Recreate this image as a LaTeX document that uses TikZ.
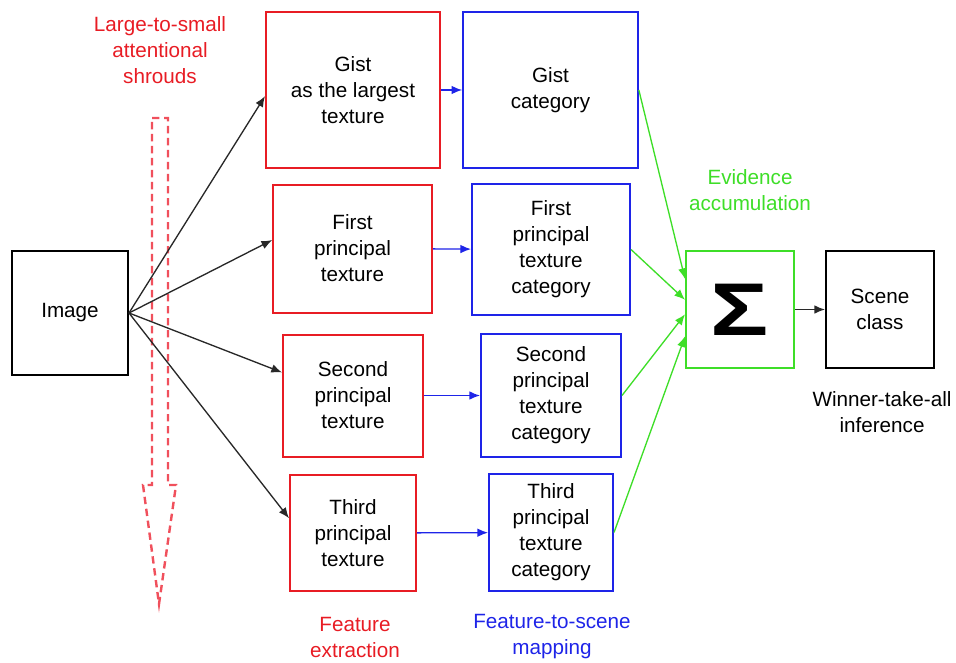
\documentclass[tikz,border=0pt]{standalone}
\usepackage{fontspec}
\setmainfont{Liberation Sans}
\usetikzlibrary{arrows.meta}
\definecolor{boxred}{RGB}{232,28,36}
\definecolor{boxblue}{RGB}{30,36,232}
\definecolor{evgreen}{RGB}{62,222,40}
\definecolor{shroud}{RGB}{240,80,92}
\definecolor{arrgray}{RGB}{40,40,40}

\begin{document}
\begin{tikzpicture}[x=0.75pt, y=-0.75pt,
	font=\fontsize{15.5}{19.5}\selectfont,
	box/.style={draw, line width=1.5pt, inner sep=0pt, align=center},
	feat/.style={box, draw=boxred},
	cat/.style={box, draw=boxblue},
	tip/.style={-{Latex[length=8pt,width=6.5pt]}},
	toFeat/.style={tip, draw=arrgray, line width=1pt},
	toCat/.style={tip, draw=boxblue, line width=1pt},
	toSum/.style={tip, draw=evgreen, line width=1pt}]
  \useasboundingbox (0,0) rectangle (956,663);

  \node[box, minimum width=87pt, minimum height=93pt] (img) at (70,313) {Image};

  \node[feat, minimum width=130.5pt, minimum height=117pt] (gist) at (353,90) {Gist\\as the largest\\texture};
  \node[feat, minimum width=119pt, minimum height=96pt] (first) at (352.5,248.5) {First\\principal\\texture};
  \node[feat, minimum width=105pt, minimum height=91.5pt] (second) at (353,395.5) {Second\\principal\\texture};
  \node[feat, minimum width=94.5pt, minimum height=87pt] (third) at (353,533) {Third\\principal\\texture};

  \node[cat, minimum width=131pt, minimum height=117pt] (gistcat) at (550.5,90) {Gist\\category};
  \node[cat, minimum width=118.5pt, minimum height=98pt] (firstcat) at (551,249.5) {First\\principal\\texture\\category};
  \node[cat, minimum width=105pt, minimum height=92pt] (secondcat) at (551,395.5) {Second\\principal\\texture\\category};
  \node[cat, minimum width=93pt, minimum height=88pt] (thirdcat) at (551,532.5) {Third\\principal\\texture\\category};

  \node[box, draw=evgreen, minimum width=81pt, minimum height=88pt, font=\fontsize{56}{56}\selectfont\bfseries] (sum) at (740,309.5) {\scalebox{1.3}[1]{Σ}};
  \node[box, minimum width=81pt, minimum height=88pt] (scene) at (880,309.5) {Scene\\class};

  \node[align=center, text=boxred] (shroudlbl) at (160,50) {Large-to-small\\attentional\\shrouds};
  \node[align=center, text=evgreen] (evidence) at (750,190) {Evidence\\accumulation};
  \node[align=center] (winner) at (882,412) {Winner-take-all\\inference};
  \node[align=center, text=boxred] (extract) at (355,637) {Feature\\extraction};
  \node[align=center, text=boxblue] (mapping) at (552,637) {Feature-to-scene\\mapping};

  \draw[shroud, line width=1.8pt, dash pattern=on 5.5pt off 3.5pt]
    (152,118) -- (168,118) -- (168,485) -- (176,485) -- (159,604) -- (143,485) -- (152,485) -- cycle;

  \draw[toFeat] (img.east) -- (gist.184);
  \draw[toFeat] (img.east) -- (first.174);
  \draw[toFeat] (img.east) -- (second.162);
  \draw[toFeat] (img.east) -- (third.167);

  \draw[toCat] (gist) -- (gistcat);
  \draw[toCat] (first) -- (firstcat);
  \draw[toCat] (second) -- (secondcat);
  \draw[toCat] (third) -- (thirdcat);

  \draw[toSum] (gistcat.east) -- (sum.151);
  \draw[toSum] (firstcat.east) -- (sum.170);
  \draw[toSum] (secondcat.east) -- (sum.185);
  \draw[toSum] (thirdcat.east) -- (sum.206);

  \draw[toFeat] (sum) -- (scene);
\end{tikzpicture}
\end{document}
